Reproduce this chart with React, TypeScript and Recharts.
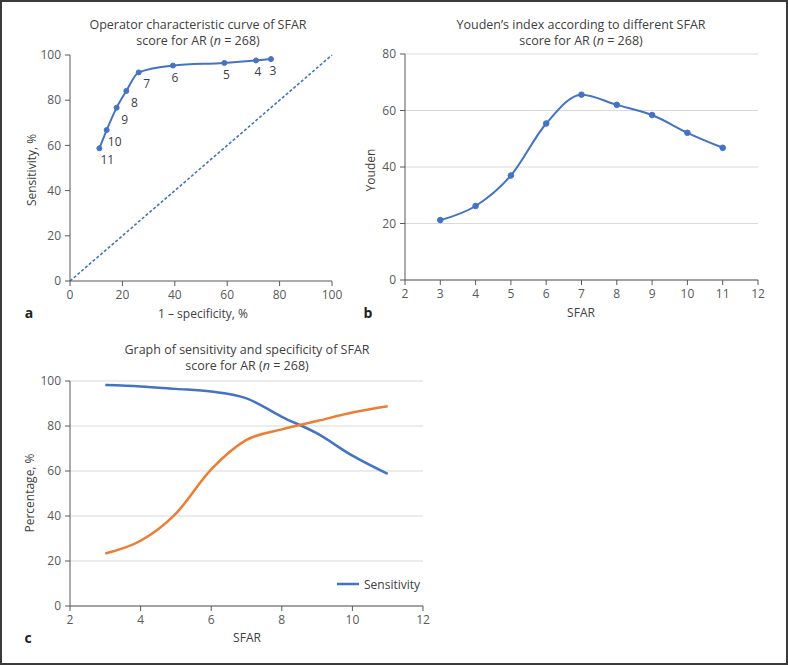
import React from "react"
import { LineChart, Line, XAxis, YAxis, CartesianGrid, LabelList } from "recharts"

// SFAR score thresholds
const scores = [3, 4, 5, 6, 7, 8, 9, 10, 11]
// sensitivity (%) per score
const sensitivity = [98.2, 97.6, 96.5, 95.3, 92.3, 84.1, 76.7, 66.8, 58.7]
// 1 - specificity (%) per score
const falsePositive = [76.7, 71.0, 58.9, 39.3, 26.2, 21.5, 17.8, 14.0, 11.2]
// specificity (%) per score
const specificity = [23.3, 29.0, 41.1, 60.7, 73.8, 78.5, 82.2, 86.0, 88.8]
// Youden's index per score
const youden = [21.2, 26.2, 37.0, 55.4, 65.6, 62.0, 58.4, 52.1, 46.8]
// chance line
const chanceLine = [
    { x: 0, y: 0 },
    { x: 100, y: 100 },
]

const rocTicks = [0, 20, 40, 60, 80, 100]
const youdenXTicks = [2, 3, 4, 5, 6, 7, 8, 9, 10, 11, 12]
const youdenYTicks = [0, 20, 40, 60, 80]
const percentXTicks = [2, 4, 6, 8, 10, 12]
const percentYTicks = [0, 20, 40, 60, 80, 100]

const BLUE = "#4472C4"
const ORANGE = "#ED7D31"
const AXIS = "#595959"
const TEXT = "#404040"
const FONT = "'Open Sans', sans-serif"

const rocData = scores
    .map((s, i) => ({ score: s, x: falsePositive[i], y: sensitivity[i] }))
    .sort((a, b) => a.x - b.x)

const youdenData = scores.map((s, i) => ({ score: s, youden: youden[i] }))

const percentData = scores.map((s, i) => ({
    score: s,
    sensitivity: sensitivity[i],
    specificity: specificity[i],
}))

const tickStyle = { fill: AXIS, fontSize: 12, fontFamily: FONT }

function RocLabel(props: any) {
    const { x, y, value } = props
    const dx = value >= 7 ? 8 : 2
    return (
        <text x={x + dx} y={y + 16} textAnchor="middle" fill={TEXT} fontSize={12} fontFamily={FONT}>
            {value}
        </text>
    )
}

function Title(props: { x: number; y: number; lines: [string, React.ReactNode] }) {
    return (
        <div
            style={{
                position: "absolute",
                left: props.x - 200,
                top: props.y,
                width: 400,
                textAlign: "center",
                fontFamily: FONT,
                fontSize: 12.5,
                lineHeight: "16px",
                color: TEXT,
            }}
        >
            <div>{props.lines[0]}</div>
            <div>{props.lines[1]}</div>
        </div>
    )
}

function Txt(props: { x: number; y: number; text: string; rotate?: boolean; bold?: boolean }) {
    return (
        <div
            style={{
                position: "absolute",
                left: props.x - 100,
                top: props.y - 9,
                width: 200,
                height: 18,
                lineHeight: "18px",
                textAlign: "center",
                fontFamily: FONT,
                fontSize: props.bold ? 14 : 12,
                fontWeight: props.bold ? 700 : 400,
                color: props.bold ? "#222" : TEXT,
                transform: props.rotate ? "rotate(-90deg)" : undefined,
            }}
        >
            {props.text}
        </div>
    )
}

const subtitle = (
    <span>
        score for AR (<i>n</i> = 268)
    </span>
)

function SensLegend(props: { x: number; y: number }) {
    return (
        <div
            style={{
                position: "absolute",
                left: props.x,
                top: props.y - 9,
                height: 18,
                display: "flex",
                alignItems: "center",
                fontFamily: FONT,
                fontSize: 12,
                color: TEXT,
            }}
        >
            <svg width={24} height={10}>
                <line x1={1} y1={5} x2={23} y2={5} stroke={BLUE} strokeWidth={2.5} />
            </svg>
            <span style={{ marginLeft: 4 }}>Sensitivity</span>
        </div>
    )
}

export default function App() {
    return (
        <div
            style={{
                position: "fixed",
                left: 0,
                top: 0,
                width: 788,
                height: 665,
                background: "#fff",
                boxSizing: "border-box",
                border: "2px solid #3a3a3a",
                overflow: "hidden",
            }}
        >
            <div style={{ position: "absolute", left: -2, top: -2 }}>
                {/* panel a */}
                <div style={{ position: "absolute", left: 0, top: 0 }}>
                    <LineChart width={394} height={330} margin={{ top: 55, right: 62, left: 30, bottom: 19 }}>
                        <XAxis
                            dataKey="x"
                            type="number"
                            domain={[0, 100]}
                            ticks={rocTicks}
                            tick={tickStyle}
                            tickSize={5}
                            tickMargin={4}
                            stroke={AXIS}
                            height={30}
                            allowDuplicatedCategory={false}
                        />
                        <YAxis
                            dataKey="y"
                            type="number"
                            domain={[0, 100]}
                            ticks={rocTicks}
                            tick={tickStyle}
                            tickSize={5}
                            tickMargin={4}
                            stroke={AXIS}
                            width={40}
                        />
                        <Line
                            data={chanceLine}
                            dataKey="y"
                            stroke={BLUE}
                            strokeWidth={1.6}
                            strokeDasharray="3 2"
                            dot={false}
                            isAnimationActive={false}
                        />
                        <Line
                            data={rocData}
                            dataKey="y"
                            type="monotone"
                            stroke={BLUE}
                            strokeWidth={2}
                            dot={{ r: 2.5, fill: BLUE, stroke: BLUE, strokeWidth: 1 }}
                            isAnimationActive={false}
                        >
                            <LabelList dataKey="score" content={RocLabel} />
                        </Line>
                    </LineChart>
                </div>

                {/* panel b */}
                <div style={{ position: "absolute", left: 340, top: 0 }}>
                    <LineChart
                        width={448}
                        height={330}
                        data={youdenData}
                        margin={{ top: 54, right: 30, left: 25, bottom: 20 }}
                    >
                        <CartesianGrid vertical={false} stroke="#d9d9d9" />
                        <XAxis
                            dataKey="score"
                            type="number"
                            domain={[2, 12]}
                            ticks={youdenXTicks}
                            tick={tickStyle}
                            tickSize={5}
                            tickMargin={4}
                            stroke={AXIS}
                            height={30}
                        />
                        <YAxis
                            type="number"
                            domain={[0, 80]}
                            ticks={youdenYTicks}
                            tick={tickStyle}
                            tickSize={5}
                            tickMargin={4}
                            stroke={AXIS}
                            width={40}
                        />
                        <Line
                            dataKey="youden"
                            type="monotone"
                            stroke={BLUE}
                            strokeWidth={2}
                            dot={{ r: 2.8, fill: BLUE, stroke: BLUE, strokeWidth: 1 }}
                            isAnimationActive={false}
                        />
                    </LineChart>
                </div>

                {/* panel c */}
                <div style={{ position: "absolute", left: 0, top: 320 }}>
                    <LineChart
                        width={460}
                        height={345}
                        data={percentData}
                        margin={{ top: 61, right: 37, left: 30, bottom: 29 }}
                    >
                        <CartesianGrid vertical={false} stroke="#d9d9d9" />
                        <XAxis
                            dataKey="score"
                            type="number"
                            domain={[2, 12]}
                            ticks={percentXTicks}
                            tick={tickStyle}
                            tickSize={5}
                            tickMargin={4}
                            stroke={AXIS}
                            height={30}
                        />
                        <YAxis
                            type="number"
                            domain={[0, 100]}
                            ticks={percentYTicks}
                            tick={tickStyle}
                            tickSize={5}
                            tickMargin={4}
                            stroke={AXIS}
                            width={40}
                        />
                        <Line
                            dataKey="sensitivity"
                            name="Sensitivity"
                            type="monotone"
                            stroke={BLUE}
                            strokeWidth={2.5}
                            dot={false}
                            isAnimationActive={false}
                        />
                        <Line
                            dataKey="specificity"
                            name="Specificity"
                            type="monotone"
                            stroke={ORANGE}
                            strokeWidth={2.5}
                            dot={false}
                            isAnimationActive={false}
                        />
                    </LineChart>
                </div>

                <SensLegend x={336} y={584} />

                <Title x={198} y={17} lines={["Operator characteristic curve of SFAR", subtitle]} />
                <Title x={581} y={17} lines={["Youden\u2019s index according to different SFAR", subtitle]} />
                <Title x={247} y={342} lines={["Graph of sensitivity and specificity of SFAR", subtitle]} />

                <Txt x={32} y={170} text="Sensitivity, %" rotate />
                <Txt x={371} y={170} text="Youden" rotate />
                <Txt x={30} y={493} text="Percentage, %" rotate />

                <Txt x={203} y={314} text="1 – specificity, %" />
                <Txt x={581} y={313} text="SFAR" />
                <Txt x={247} y={638} text="SFAR" />

                <Txt x={29} y={313} text="a" bold />
                <Txt x={368} y={313} text="b" bold />
                <Txt x={28} y={638} text="c" bold />
            </div>
        </div>
    )
}
